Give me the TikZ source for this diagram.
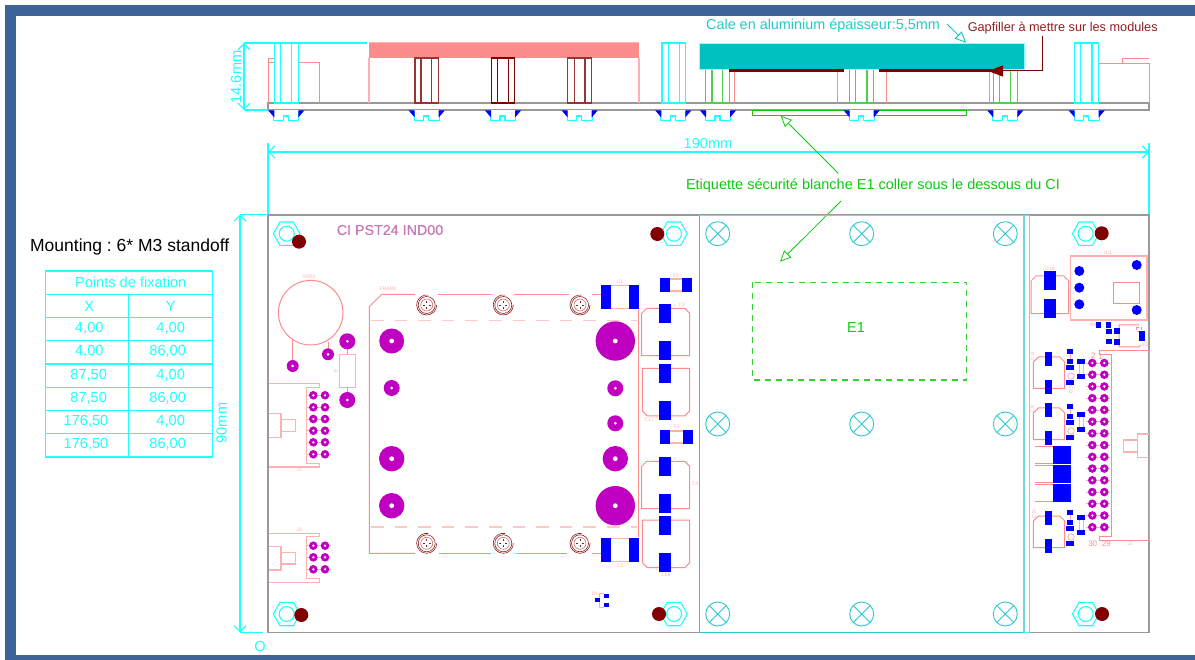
\documentclass[tikz,border=0pt]{standalone}
\usepackage{fontspec}
\setmainfont{Liberation Sans}
\usetikzlibrary{arrows.meta}
\definecolor{frameblue}{HTML}{3C6496}
\definecolor{dimcyan}{HTML}{20FFFF}
\definecolor{tealc}{HTML}{00C0C0}
\definecolor{tealline}{HTML}{30C8D0}
\definecolor{pinkl}{HTML}{FF8C8C}
\definecolor{palepink}{HTML}{FFB0B0}
\definecolor{padpurple}{HTML}{C000C0}
\definecolor{titlec}{HTML}{C878B4}
\definecolor{pblue}{HTML}{0000FF}
\definecolor{dred}{HTML}{800000}
\definecolor{gred}{HTML}{902020}
\definecolor{greenl}{HTML}{10C810}
\definecolor{greens}{HTML}{50D050}
\definecolor{greyl}{HTML}{999999}
\newcommand\fsz[1]{\fontsize{#1}{#1}\selectfont}
\newcommand\bpad[4]{\fill[pblue] (#1,#2) rectangle (#3,#4);}
\newcommand\pad[3]{\fill[padpurple] (#1,#2) circle (#3); \pgfmathsetmacro{\holer}{#3>10?2.4:1.5}\fill[white] (#1,#2) circle (\holer);}
\newcommand\spad[2]{\draw[palepink,line width=.6pt] (#1-6,#2)--(#1+6,#2); \fill[padpurple] (#1,#2) circle (4.3); \fill[white] (#1,#2) circle (1.3);}
\newcommand\nut[2]{\draw[dimcyan,line width=1.1pt,shift={(#1,#2)}] (13.3,0)--(6.7,11.7)--(-6.7,11.7)--(-13.3,0)--(-6.7,-11.7)--(6.7,-11.7)--cycle; \draw[dimcyan,line width=1.1pt] (#1,#2) circle (7.5);}
\newcommand\xcirc[2]{\draw[tealline,line width=.9pt] (#1,#2) circle (12); \draw[tealline,line width=.9pt,shift={(#1,#2)}] (-8.5,-8.5)--(8.5,8.5) (-8.5,8.5)--(8.5,-8.5);}
\newcommand\ringc[2]{\begin{scope}[shift={(#1,#2)}]
 \draw[gred,line width=.6pt] (0,0) circle (8.5);
 \draw[gred,line width=.6pt] (10,0) arc (0:280:10);
 \draw[gred!70!white,line width=.5pt] (0,0) circle (6);
 \draw[gred,line width=.6pt] (0,-4)--(0,-2) (0,4)--(0,2) (-4,0)--(-2,0) (4,0)--(2,0);
 \end{scope}}
\newcommand\standoff[6]{\draw[#1,line width=1.1pt] (#2,#6) rectangle (#5,103) (#3,#6)--(#3,103) (#4,#6)--(#4,103);}
\newcommand\screw[1]{\begin{scope}[shift={(#1,0)}]
 \fill[white] (-12.5,110.5) rectangle (12.5,121);
 \draw[dimcyan,line width=1.1pt] (-12.5,111)--(-12.5,120.7)--(-3,120.7)--(-3,116)--(2,116)--(2,120.7)--(12.5,120.7)--(12.5,111);
 \fill[pblue] (-18,110.5)--(-12,110.5)--(-12,117.5)--cycle;
 \fill[pblue] (18,110.5)--(12,110.5)--(12,117.5)--cycle;
 \end{scope}}
\newcommand\captop[4]{\draw[pinkl,line width=1pt] (#1,#4)--(#1,#2+5)--(#1+5,#2)--(#3-5,#2)--(#3,#2+5)--(#3,#4)--cycle;}
\newcommand\capbot[4]{\draw[pinkl,line width=1pt] (#1,#2)--(#1,#4-5)--(#1+5,#4)--(#3-5,#4)--(#3,#4-5)--(#3,#2)--cycle;}
\tikzset{
 tinylab/.style={text=palepink,font=\fsz{5},inner sep=0},
 numlab/.style={text=pinkl,font=\fsz{8},inner sep=0},
 pinkline/.style={draw=pinkl,line width=1pt},
 paleline/.style={draw=palepink,line width=1.3pt},
 dimline/.style={draw=dimcyan,line width=1.1pt},
 dimarrows/.style={dimline,{Straight Barb[length=6pt,width=12pt]}-{Straight Barb[length=6pt,width=12pt]}},
 cyanlab/.style={text=dimcyan,font=\fsz{14.6},inner sep=0},
 openarrow/.style={-{Triangle[open,length=11pt,width=10pt,fill=white]}},
}
\begin{document}
\frenchspacing
\begin{tikzpicture}[x=1pt,y=-1pt]
\useasboundingbox (0,0) rectangle (1195,660);
\fill[white] (0,0) rectangle (1195,660);
\fill[frameblue] (5,5) rectangle (1195,16);
\fill[frameblue] (5,5) rectangle (16,660);
\fill[frameblue] (5,655) rectangle (1195,660);

% ---------- side view ----------
\draw[greyl,line width=1.1pt] (268,103) rectangle (1149,110);
\draw[pinkl,line width=1pt] (268,103)--(268,58.5)--(274,58.5) (268,63)--(274,63) (298,63)--(319,63)--(319,103);
\draw[pinkl,line width=1pt] (1098.7,63.3)--(1149.3,63.3)--(1149.3,103) (1122.7,63.3)--(1122.7,58.3)--(1149.3,58.3);
\fill[pinkl] (369,43) rectangle (639,58);
\draw[palepink,line width=1pt] (369,43)--(639,43);
\draw[palepink,line width=1.3pt] (369,58)--(369,103) (639,58)--(639,103);
\standoff{dred!80!white}{415}{421}{431.7}{438.3}{58}
\standoff{dred}{491.3}{497.3}{508.7}{514.7}{58}
\standoff{dred!80!white}{567.7}{574.3}{585}{591.3}{58}
\standoff{dimcyan}{274.3}{280.7}{291.7}{298.3}{43}
\standoff{dimcyan}{662}{668.3}{679.3}{685.3}{43}
\standoff{dimcyan}{1074.7}{1080.7}{1092}{1098.7}{43}
\draw[pinkl,line width=1pt] (734.3,70)--(734.3,103) (837.3,70)--(837.3,103) (886,70)--(886,103) (989,70)--(989,103);
\standoff{greens}{705.7}{712}{722.7}{729.3}{69}
\standoff{greens}{849.3}{855.7}{867}{873.7}{69}
\standoff{greens}{993.3}{999.3}{1010.3}{1017.3}{69}
\fill[tealc] (699,43) rectangle (1024.3,69);
\draw[dimcyan!50!white,line width=.6pt] (699,43) rectangle (1024.3,69);
\fill[dred] (729.3,69) rectangle (844,71.7);
\fill[dred] (879,69) rectangle (1003,71.7);
\draw[greenl,line width=1pt] (752.3,110.3) rectangle (966.7,115.7);
\foreach \sx in {286.3,426.7,503,579.7,673.3,718,861.7,1005.3,1086.7}{\screw{\sx}}
% 14.6 dimension
\coordinate (dimAtop) at (244,43);
\coordinate (dimAbot) at (244,110);
\draw[dimline] (dimAtop)--(367,43);
\draw[dimline] (dimAbot)--(268,110);
\draw[dimarrows] (dimAtop)--(dimAbot);
\fill[dimcyan] (244,77) circle (1.5);
\node[cyanlab,rotate=90] (dimAlab) at (236,77) {14.6mm};
% 190 dimension
\coordinate (dimBl) at (268,152);
\coordinate (dimBr) at (1149,152);
\draw[dimline] (268,143)--(268,215) (1149,143)--(1149,215);
\draw[dimarrows] (dimBl)--(dimBr);
\fill[dimcyan] (708,152) circle (1.5);
\node[cyanlab] (dimBlab) at (708,143) {190mm};
% callouts
\node[text=tealc!85!white,font=\fsz{14.4},inner sep=0] (cale) at (823,26) {Cale en aluminium épaisseur:5,5mm};
\coordinate (caleA) at (947.3,24.3);
\coordinate (caleB) at (966,42.7);
\draw[tealc,line width=.8pt,openarrow] (caleA)--(caleB);
\node[text=gred,font=\fsz{12.7},inner sep=0] (gap) at (1062.7,27.7) {Gapfiller à mettre sur les modules};
\coordinate (gapA) at (1042.3,36);
\coordinate (gapB) at (988,71);
\draw[dred,line width=1pt,-{Triangle[length=15pt,width=11pt]}] (gapA)--(1042.3,71)--(gapB);
\node[text=greenl,font=\fsz{14.5},inner sep=0] (etq) at (873,186) {Etiquette sécurité blanche E1 coller sous le dessous du CI};
\coordinate (etqA) at (838.3,173.3);
\coordinate (etqB) at (780.7,115.7);
\coordinate (etqC) at (841,201);
\coordinate (etqD) at (780,261.7);
\draw[greenl,line width=.8pt,openarrow] (etqA)--(etqB);
\draw[greenl,line width=.8pt,openarrow] (etqC)--(etqD);

% ---------- board ----------
\draw[greyl,line width=1.2pt] (268,215) rectangle (1149,632.5);
\draw[tealline,line width=1pt] (699.3,215.5)--(699.3,632.7)--(1024,632.7);
\draw[dimcyan,line width=1pt] (699.3,215.5)--(1029.3,215.5)--(1029.3,632.7)--(1024,632.7);
\draw[tealline!70!white,line width=1.4pt] (1024,215.5)--(1024,632.7);
\foreach \yy in {233.7,424,614}{\foreach \xx in {717.7,861.7,1005.3}{\xcirc{\xx}{\yy}}}
\draw[greenl!85!white,line width=1.2pt,dash pattern=on 6pt off 5pt] (752.3,282.3) rectangle (966.7,380);
\node[text=greenl,font=\fsz{14.5},inner sep=0] (e1) at (856,327.7) {E1};
% 90 dimension
\coordinate (dimCt) at (240,214.5);
\coordinate (dimCb) at (240,632.5);
\draw[dimline] (dimCt)--(268,214.5);
\draw[dimline] (dimCb)--(263,632.5);
\draw[dimarrows] (dimCt)--(dimCb);
\fill[dimcyan] (240,424) circle (1.5);
\node[cyanlab,rotate=90] (dimClab) at (221.7,423) {90mm};
\node[cyanlab] (orig) at (260,646) {O};
% nuts
\nut{286.7}{233.7}\nut{286.7}{614}\nut{674}{233.7}\nut{674}{614}\nut{1085.7}{233.7}\nut{1085.7}{614}
\foreach \dx/\dy in {299/241.7,301.3/615,657.3/234,659/614,1101.7/233.3,1102/614}{\fill[dred] (\dx,\dy) circle (7);}
\node[text=titlec,font=\fsz{14.3}\addfontfeature{FakeBold=0.5},inner sep=0] (title) at (390,230) {CI PST24 IND00};

% VDR
\draw[pinkl,line width=1pt] (310.7,312.7) circle (32.3);
\draw[pinkl,line width=1pt] (292.7,340)--(292.7,362) (328.3,341.7)--(328.3,350);
\node[tinylab] (vdr) at (309,276.3) {VDR1};
\pad{292.7}{366}{6}\pad{328}{354.3}{6}
\draw[paleline] (339.7,354.3) rectangle (355.7,387.3);
\draw[pinkl,line width=.8pt] (347.3,345)--(347.3,354) (347.3,387.3)--(347.3,396);
\pad{347.3}{341.3}{8}\pad{347.3}{400}{8}
\node[tinylab,rotate=90] (elab) at (336,371) {E};

% J1 / J3
\draw[paleline] (269,383.3)--(319.3,383.3)--(319.3,387.3)--(306.7,387.3)--(306.7,463.3)--(319.3,463.3)--(319.3,467)--(269,467);
\draw[paleline] (269,413.3)--(281,413.3)--(281,437.3)--(269,437.3);
\draw[paleline] (281,419.3)--(295.7,419.3)--(295.7,431.7)--(281,431.7);
\node[tinylab] (j1) at (299,470.3) {J1};
\foreach \yy in {395.3,407.3,419,430.7,442.3,454.3}{\spad{313.3}{\yy}\spad{325}{\yy}}
\draw[paleline] (269,533.3)--(319.3,533.3)--(319.3,536.7)--(306.7,536.7)--(306.7,578.7)--(319.3,578.7)--(319.3,582.3)--(269,582.3);
\draw[paleline] (269,546.3)--(281,546.3)--(281,570)--(269,570);
\draw[paleline] (281,552.3)--(295.7,552.3)--(295.7,564)--(281,564);
\node[tinylab] (j3) at (299,530) {J3};
\foreach \yy in {545.7,557.3,569.3}{\spad{313.3}{\yy}\spad{325}{\yy}}

% FRAM module
\draw[pinkl,line width=1pt] (415,294.3)--(381.7,294.3)--(369.3,306.7)--(369.3,553.3)--(415,553.3);
\draw[pinkl,line width=1pt] (437.7,294.3)--(491.7,294.3) (514,294.3)--(569,294.3) (592.3,294.3)--(601.7,294.3);
\draw[pinkl,line width=1pt] (439,553.3)--(490.7,553.3) (515.7,553.3)--(567.3,553.3) (592.3,553.3)--(601.7,553.3);
\draw[pinkl,line width=1pt] (638.3,310)--(638.3,537);
\draw[palepink!70!white,line width=1.4pt,dash pattern=on 12.6pt off 11pt] (370.9,320.7)--(637.3,320.7);
\draw[palepink!70!white,line width=1.4pt,dash pattern=on 12.6pt off 11pt] (370.9,527)--(637.3,527);
\node[tinylab] (fram) at (388,289) {FRAM1};
\foreach \xx in {426.7,503.3,580}{\ringc{\xx}{305}\ringc{\xx}{543.3}}
\pad{391.7}{341}{12.5}\pad{391.7}{388}{8}\pad{391.7}{458.7}{12.7}\pad{391.7}{505.7}{12.7}
\pad{615.3}{341}{19.7}\pad{615.3}{388.3}{8}\pad{615.3}{423.3}{8}\pad{615.3}{458.7}{12.7}\pad{615.3}{505.7}{19.7}

% C1 C2 F2 F3
\draw[paleline] (611,285.3)--(629,285.3) (611,308.7)--(629,308.7);
\bpad{601}{285}{611}{309}\bpad{629}{285}{639}{309}
\node[tinylab] (c1) at (620,282) {C1};
\draw[paleline] (611,538.3)--(629,538.3) (611,561.7)--(629,561.7);
\bpad{601}{538}{611}{562}\bpad{629}{538}{639}{562}
\node[tinylab] (c2) at (620,565.5) {C2};
\draw[paleline] (670,279)--(682,279) (670,291)--(682,291);
\bpad{660}{278}{670}{292}\bpad{682}{278}{692}{292}
\node[tinylab] (f2) at (676,275.8) {F2};
\draw[paleline] (670,431)--(683,431) (670,443)--(683,443);
\bpad{660}{430}{670}{444}\bpad{683}{430}{693}{444}
\node[tinylab] (f3) at (676.7,427) {F3};

% electrolytics
\captop{641.7}{308.3}{689.7}{355.7}
\bpad{659}{304}{671}{323}\bpad{659}{341}{671}{360}
\node[tinylab] (c3) at (681.7,304.3) {C3};
\capbot{642.3}{368.3}{689.7}{416}
\bpad{659}{364}{671}{383}\bpad{659}{401}{671}{420}
\node[tinylab] (c17) at (649.3,420) {C17};
\captop{641.7}{461.3}{689.7}{508.7}
\bpad{659}{457}{671}{476}\bpad{659}{494}{671}{513}
\node[tinylab] (c4) at (695,484) {C4};
\capbot{642.3}{520}{689.7}{567.7}
\bpad{659}{516}{671}{535}\bpad{659}{553}{671}{572}
\node[tinylab] (c18) at (665.7,574.3) {C18};
\node[tinylab] (p1) at (675,306) {+};
\node[tinylab] (p2) at (656.7,418) {+};
\node[tinylab] (p3) at (675,459.3) {+};
\node[tinylab] (p4) at (656.7,570) {+};

% D1
\draw[paleline] (604,593.5)--(599.5,593.5)--(599.5,607.5)--(604,607.5);
\bpad{595}{597.7}{600}{602}\bpad{604}{594}{609}{598.3}\bpad{604}{602.7}{609}{607}
\node[tinylab] (d1) at (595,594) {D1};

% right section
\draw[paleline] (1070.7,256) rectangle (1147,320);
\draw[pinkl,line width=1pt] (1113.3,282.3) rectangle (1139,303.7);
\node[tinylab] (ic1) at (1108.3,253) {IC1};
\foreach \cx/\cy in {1079.3/271,1079.3/287.7,1079.3/304.3,1136.7/265,1136.7/310}{\fill[pblue] (\cx,\cy) circle (5);}
\captop{1031}{276}{1068.7}{313.7}
\bpad{1044}{271}{1056}{290}\bpad{1044}{299}{1056}{318}
\node[tinylab] (c16) at (1050,268.5) {C16};
\captop{1033.3}{357}{1064.7}{388.3}
\bpad{1045}{352}{1052.3}{366}\bpad{1045}{380}{1052.3}{394}
\node[tinylab,rotate=90] (c11) at (1032.5,356) {C11};
\captop{1033.3}{408}{1064.7}{439.7}
\bpad{1045}{403}{1052.3}{417}\bpad{1045}{431}{1052.3}{445}
\node[tinylab,rotate=90] (c9) at (1032.5,409) {C9};
\captop{1033.3}{516}{1064.7}{547.7}
\bpad{1045}{511}{1052.3}{525}\bpad{1045}{539}{1052.3}{553}
\node[tinylab,rotate=90] (c10) at (1034,514) {C10};
% stack
\draw[pinkl,line width=.8pt] (1035,446)--(1053,446) (1035,463.7)--(1053,463.7) (1035,465)--(1053,465) (1035,482.7)--(1053,482.7) (1035,484)--(1053,484) (1035,501.7)--(1053,501.7);
\bpad{1053}{446}{1071}{463.7}\bpad{1053}{465}{1071}{482.7}\bpad{1053}{484}{1071}{501.7}
% small groups
\foreach \oy/\rt/\rb in {0/359/374,55/412/427,161/515/530}{
 \draw[palepink,line width=.9pt] (1071,\oy+376) circle (3.2);
 \draw[palepink,line width=.8pt] (1079,\rt+5)--(1079,\rb) (1083,\rt+5)--(1083,\rb);
 \draw[palepink,line width=.8pt] (1070,\oy+354)--(1070,\oy+359);
 \bpad{1067}{\oy+349}{1073}{\oy+354}\bpad{1067}{\oy+359}{1073}{\oy+364}
 \bpad{1066}{\oy+365}{1074}{\oy+370}\bpad{1066}{\oy+380}{1074}{\oy+385}
 \bpad{1077}{\rt}{1085}{\rt+5}\bpad{1077}{\rb}{1085}{\rb+5}
}
\node[tinylab,rotate=90] (d3) at (1071,390) {D3};
% top right block
\draw[pinkl,line width=1pt] (1119,325)--(1139,325) (1141,345)--(1139,347)--(1119,347)--(1119,325);
\draw[pinkl,line width=.8pt,densely dashed] (1136,327) rectangle (1141,331);
\bpad{1096}{322}{1101}{328}\bpad{1106}{322}{1111}{328}
\bpad{1106}{329}{1112}{334}\bpad{1114}{328}{1120}{334}
\bpad{1106}{339}{1112}{344}\bpad{1114}{339}{1120}{345}
\bpad{1139}{331}{1145}{341}
\node[tinylab] (r8) at (1093,325) {R8};
\node[tinylab] (p3lab) at (1145.5,345) {P3};
% big connector
\draw[pinkl,line width=1pt] (1111.7,354.3)--(1099,354.3)--(1099,351)--(1149,351)--(1149,540.3)--(1099,540.3)--(1099,536.7)--(1111.7,536.7)--cycle;
\draw[paleline] (1149,434)--(1137.3,434)--(1137.3,457.7)--(1149,457.7);
\draw[paleline] (1137.3,440)--(1123.3,440)--(1123.3,452)--(1137.3,452);
\foreach \k in {0,...,14}{
 \pgfmathsetmacro{\yy}{363+\k*11.73}
 \spad{1092.3}{\yy}\spad{1104.3}{\yy}
}
\node[numlab] (n2) at (1093.3,356) {2};
\node[numlab] (n1) at (1100.7,356.7) {1};
\node[numlab] (n30) at (1092.7,544) {30};
\node[numlab] (n29) at (1106.3,544) {29};
\node[tinylab] (j2) at (1130,544) {J2};

% ---------- table ----------
\draw[dimline] (45.3,271) rectangle (212.7,457);
\foreach \yy in {294.3,317.3,340.3,364,387.3,410.3,433.3}{\draw[dimline] (45.3,\yy)--(212.7,\yy);}
\draw[dimline] (128.7,294.3)--(128.7,457);
\node[cyanlab] (thead) at (130.7,282) {Points de fixation};
\node[cyanlab] (tx) at (89.3,306.7) {X};
\node[cyanlab] (ty) at (170.7,306.7) {Y};
\node[cyanlab] (a1) at (89.3,328.3) {4,00};
\node[cyanlab] (b1) at (170.7,328.3) {4,00};
\node[cyanlab] (a2) at (89.3,351) {4,00};
\node[cyanlab] (b2) at (167.7,351) {86,00};
\node[cyanlab] (a3) at (88.7,375) {87,50};
\node[cyanlab] (b3) at (170.7,375) {4,00};
\node[cyanlab] (a4) at (88.7,398) {87,50};
\node[cyanlab] (b4) at (167.7,398) {86,00};
\node[cyanlab] (a5) at (86,421) {176,50};
\node[cyanlab] (b5) at (170.7,421) {4,00};
\node[cyanlab] (a6) at (86,444) {176,50};
\node[cyanlab] (b6) at (167.7,444) {86,00};
\node[text=black,font=\fsz{17.5},inner sep=0] (mount) at (129.7,246.7) {Mounting : 6* M3 standoff};
\end{tikzpicture}
\end{document}
